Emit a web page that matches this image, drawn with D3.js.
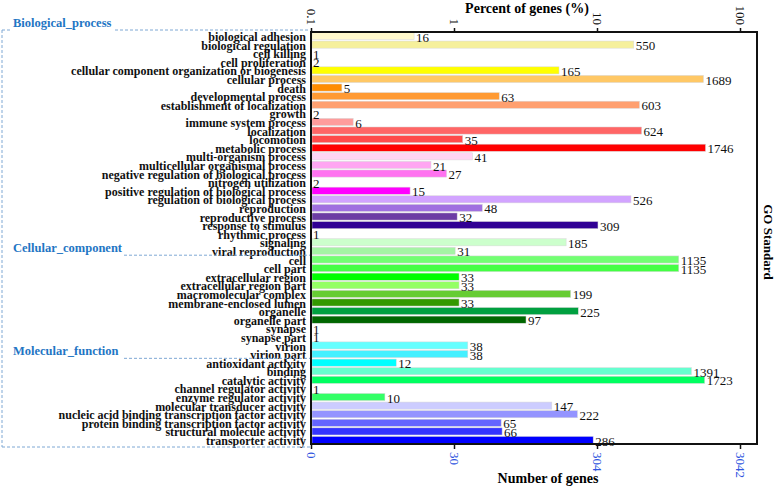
<!DOCTYPE html>
<html>
<head>
<meta charset="utf-8" />
<script src="https://d3js.org/d3.v7.min.js"></script>
<style>
  body { margin: 0; background: #fff; }
  text { font-family: "Liberation Serif", "Times New Roman", serif; }
</style>
</head>
<body>
<div id="chart"></div>
<script>
// GO terms, in drawing order
var terms = ["biological adhesion", "biological regulation", "cell killing", "cell proliferation",
  "cellular component organization or biogenesis", "cellular process", "death", "developmental process",
  "establishment of localization", "growth", "immune system process", "localization", "locomotion",
  "metabolic process", "multi-organism process", "multicellular organismal process",
  "negative regulation of biological process", "nitrogen utilization", "positive regulation of biological process",
  "regulation of biological process", "reproduction", "reproductive process", "response to stimulus",
  "rhythmic process", "signaling", "viral reproduction",
  "cell", "cell part", "extracellular region", "extracellular region part", "macromolecular complex",
  "membrane-enclosed lumen", "organelle", "organelle part", "synapse", "synapse part", "virion", "virion part",
  "antioxidant activity", "binding", "catalytic activity", "channel regulator activity", "enzyme regulator activity",
  "molecular transducer activity", "nucleic acid binding transcription factor activity",
  "protein binding transcription factor activity", "structural molecule activity", "transporter activity"];

var counts = [16, 550, 1, 2, 165, 1689, 5, 63, 603, 2, 6, 624, 35, 1746, 41, 21, 27, 2, 15, 526, 48, 32, 309, 1, 185, 31,
  1135, 1135, 33, 33, 199, 33, 225, 97, 1, 1, 38, 38,
  12, 1391, 1723, 1, 10, 147, 222, 65, 66, 286];

var colors = ["#fff8cc", "#f6f09c", "#ffffff", "#ffffff", "#ffff00", "#ffc866", "#ff8c00", "#ff9a33",
  "#ffa070", "#ffffff", "#ff9c9c", "#ff6666", "#ff4a4a", "#ff0000", "#ffd4f4", "#ffa6f2", "#ff72f0",
  "#ffffff", "#ff00ff", "#d2a4ff", "#a070e0", "#6c3ca4", "#300094", "#ffffff", "#ccffcc", "#a4f4a4",
  "#72ff72", "#44ff44", "#00ff00", "#94ff64", "#66cc33", "#339900", "#00a040", "#006600", "#ffffff", "#ffffff",
  "#66ffff", "#44f0ff", "#00ffff", "#66ffd0", "#00ff60", "#ffffff", "#33ff66",
  "#ccccff", "#9494ff", "#6464ff", "#3434ff", "#0000ff"];

// section name, first term index
var groups = [["Biological_process", 0], ["Cellular_component", 26], ["Molecular_function", 38]];

var total = 3042;
var pctTicks = [0.1, 1, 10, 100];
var pctTickLabels = ["0.1", "1", "10", "100"];
var countTickLabels = ["0", "30", "304", "3042"];

var W = 777, H = 488;
var plot = {left: 311, right: 757, top: 32, bottom: 444};

var svg = d3.select("#chart").append("svg")
  .attr("width", W)
  .attr("height", H);

var x = d3.scaleLog()
  .domain([0.1, 0.1 * Math.pow(10, (plot.right - plot.left) / 143)])
  .range([plot.left, plot.right]);

var y = d3.scaleBand()
  .domain(terms)
  .range([plot.top, plot.bottom])
  .paddingInner(0.17)
  .paddingOuter(0.05);

var step = y.step();

function pct(c) { return c / total * 100; }

// bars
svg.selectAll(".bar")
  .data(terms)
  .enter().append("rect")
  .attr("class", "bar")
  .attr("x", plot.left + 1)
  .attr("y", function(d) { return y(d); })
  .attr("height", y.bandwidth())
  .attr("width", function(d, i) {
    var p = pct(counts[i]);
    return p <= 0.1 ? 0 : Math.max(0, x(p) - plot.left - 1);
  })
  .style("fill", function(d, i) { return colors[i]; })
  .style("stroke", "#d8d8d8")
  .style("stroke-width", 0.5);

// value labels
svg.selectAll(".val")
  .data(terms)
  .enter().append("text")
  .attr("class", "val")
  .attr("x", function(d, i) {
    var p = pct(counts[i]);
    return (p <= 0.1 ? plot.left : x(p)) + 2;
  })
  .attr("y", function(d) { return y(d) + y.bandwidth() + 2; })
  .style("font-size", "13px")
  .style("fill", "#111")
  .text(function(d, i) { return counts[i]; });

// category labels
svg.selectAll(".lab")
  .data(terms)
  .enter().append("text")
  .attr("class", "lab")
  .attr("x", 306)
  .attr("y", function(d) { return y(d) + y.bandwidth() + 1.5; })
  .attr("text-anchor", "end")
  .style("font-size", "12px")
  .style("font-weight", "bold")
  .style("fill", "#111")
  .text(function(d) { return d; });

// frame
svg.append("rect")
  .attr("x", plot.left)
  .attr("y", plot.top)
  .attr("width", plot.right - plot.left)
  .attr("height", plot.bottom - plot.top)
  .style("fill", "none")
  .style("stroke", "#111")
  .style("stroke-width", 2);

// top axis (percent)
var topAxis = d3.axisTop(x)
  .tickValues(pctTicks)
  .tickSize(4)
  .tickFormat(function(d, i) { return pctTickLabels[i]; });
var gt = svg.append("g")
  .attr("transform", "translate(0," + plot.top + ")")
  .call(topAxis);
gt.select(".domain").remove();
gt.selectAll("line").style("stroke", "#111").style("stroke-width", 1.5);
gt.selectAll("text")
  .attr("transform", "rotate(90)")
  .attr("x", -7)
  .attr("y", 0)
  .attr("dy", "0.35em")
  .attr("text-anchor", "end")
  .style("font-family", "Liberation Serif, serif")
  .style("font-size", "13px")
  .style("fill", "#111");

// bottom axis (number of genes)
var bottomAxis = d3.axisBottom(x)
  .tickValues(pctTicks)
  .tickSize(5)
  .tickFormat(function(d, i) { return countTickLabels[i]; });
var gb = svg.append("g")
  .attr("transform", "translate(0," + plot.bottom + ")")
  .call(bottomAxis);
gb.select(".domain").remove();
gb.selectAll("line").style("stroke", "#111").style("stroke-width", 1.5);
gb.selectAll("text")
  .attr("transform", "rotate(90)")
  .attr("x", 8)
  .attr("y", 0)
  .attr("dy", "0.35em")
  .attr("text-anchor", "start")
  .style("font-family", "Liberation Serif, serif")
  .style("font-size", "13px")
  .style("fill", "#2f55e0");

// axis titles
svg.append("text")
  .attr("x", (plot.left + plot.right) / 2 - 7)
  .attr("y", 13)
  .attr("text-anchor", "middle")
  .style("font-size", "14px")
  .style("font-weight", "bold")
  .text("Percent of genes (%)");

svg.append("text")
  .attr("x", (plot.left + plot.right) / 2 + 14)
  .attr("y", 483)
  .attr("text-anchor", "middle")
  .style("font-size", "14px")
  .style("font-weight", "bold")
  .text("Number of genes");

svg.append("text")
  .attr("transform", "translate(764," + ((plot.top + plot.bottom) / 2 + 4) + ") rotate(90)")
  .attr("text-anchor", "middle")
  .style("font-size", "13px")
  .style("font-weight", "bold")
  .text("GO Standard");

// section brackets
var dashCol = "#7fa8d4";
var bx = 2;
var gTop = plot.top - 2;
var gBottom = plot.bottom + 3;

svg.append("line")
  .attr("x1", bx).attr("x2", bx)
  .attr("y1", gTop).attr("y2", gBottom)
  .style("stroke", dashCol).style("stroke-dasharray", "3,2");
svg.append("line")
  .attr("x1", bx).attr("x2", 310)
  .attr("y1", gBottom).attr("y2", gBottom)
  .style("stroke", dashCol).style("stroke-dasharray", "3,2");

groups.forEach(function(g, i) {
  var yy = i === 0 ? gTop : y(terms[g[1]]) - (step - y.bandwidth()) / 2;
  svg.append("text")
    .attr("x", 13)
    .attr("y", yy - 3)
    .style("font-size", "12.5px")
    .style("font-weight", "bold")
    .style("fill", "#1f76c4")
    .text(g[0]);
  if (i === 0) {
    svg.append("line")
      .attr("x1", bx).attr("x2", 12)
      .attr("y1", yy).attr("y2", yy)
      .style("stroke", dashCol).style("stroke-dasharray", "3,2");
  }
  svg.append("line")
    .attr("x1", i === 0 ? 115 : 124).attr("x2", 310)
    .attr("y1", yy).attr("y2", yy)
    .style("stroke", dashCol).style("stroke-dasharray", "3,2");
});
</script>
</body>
</html>
